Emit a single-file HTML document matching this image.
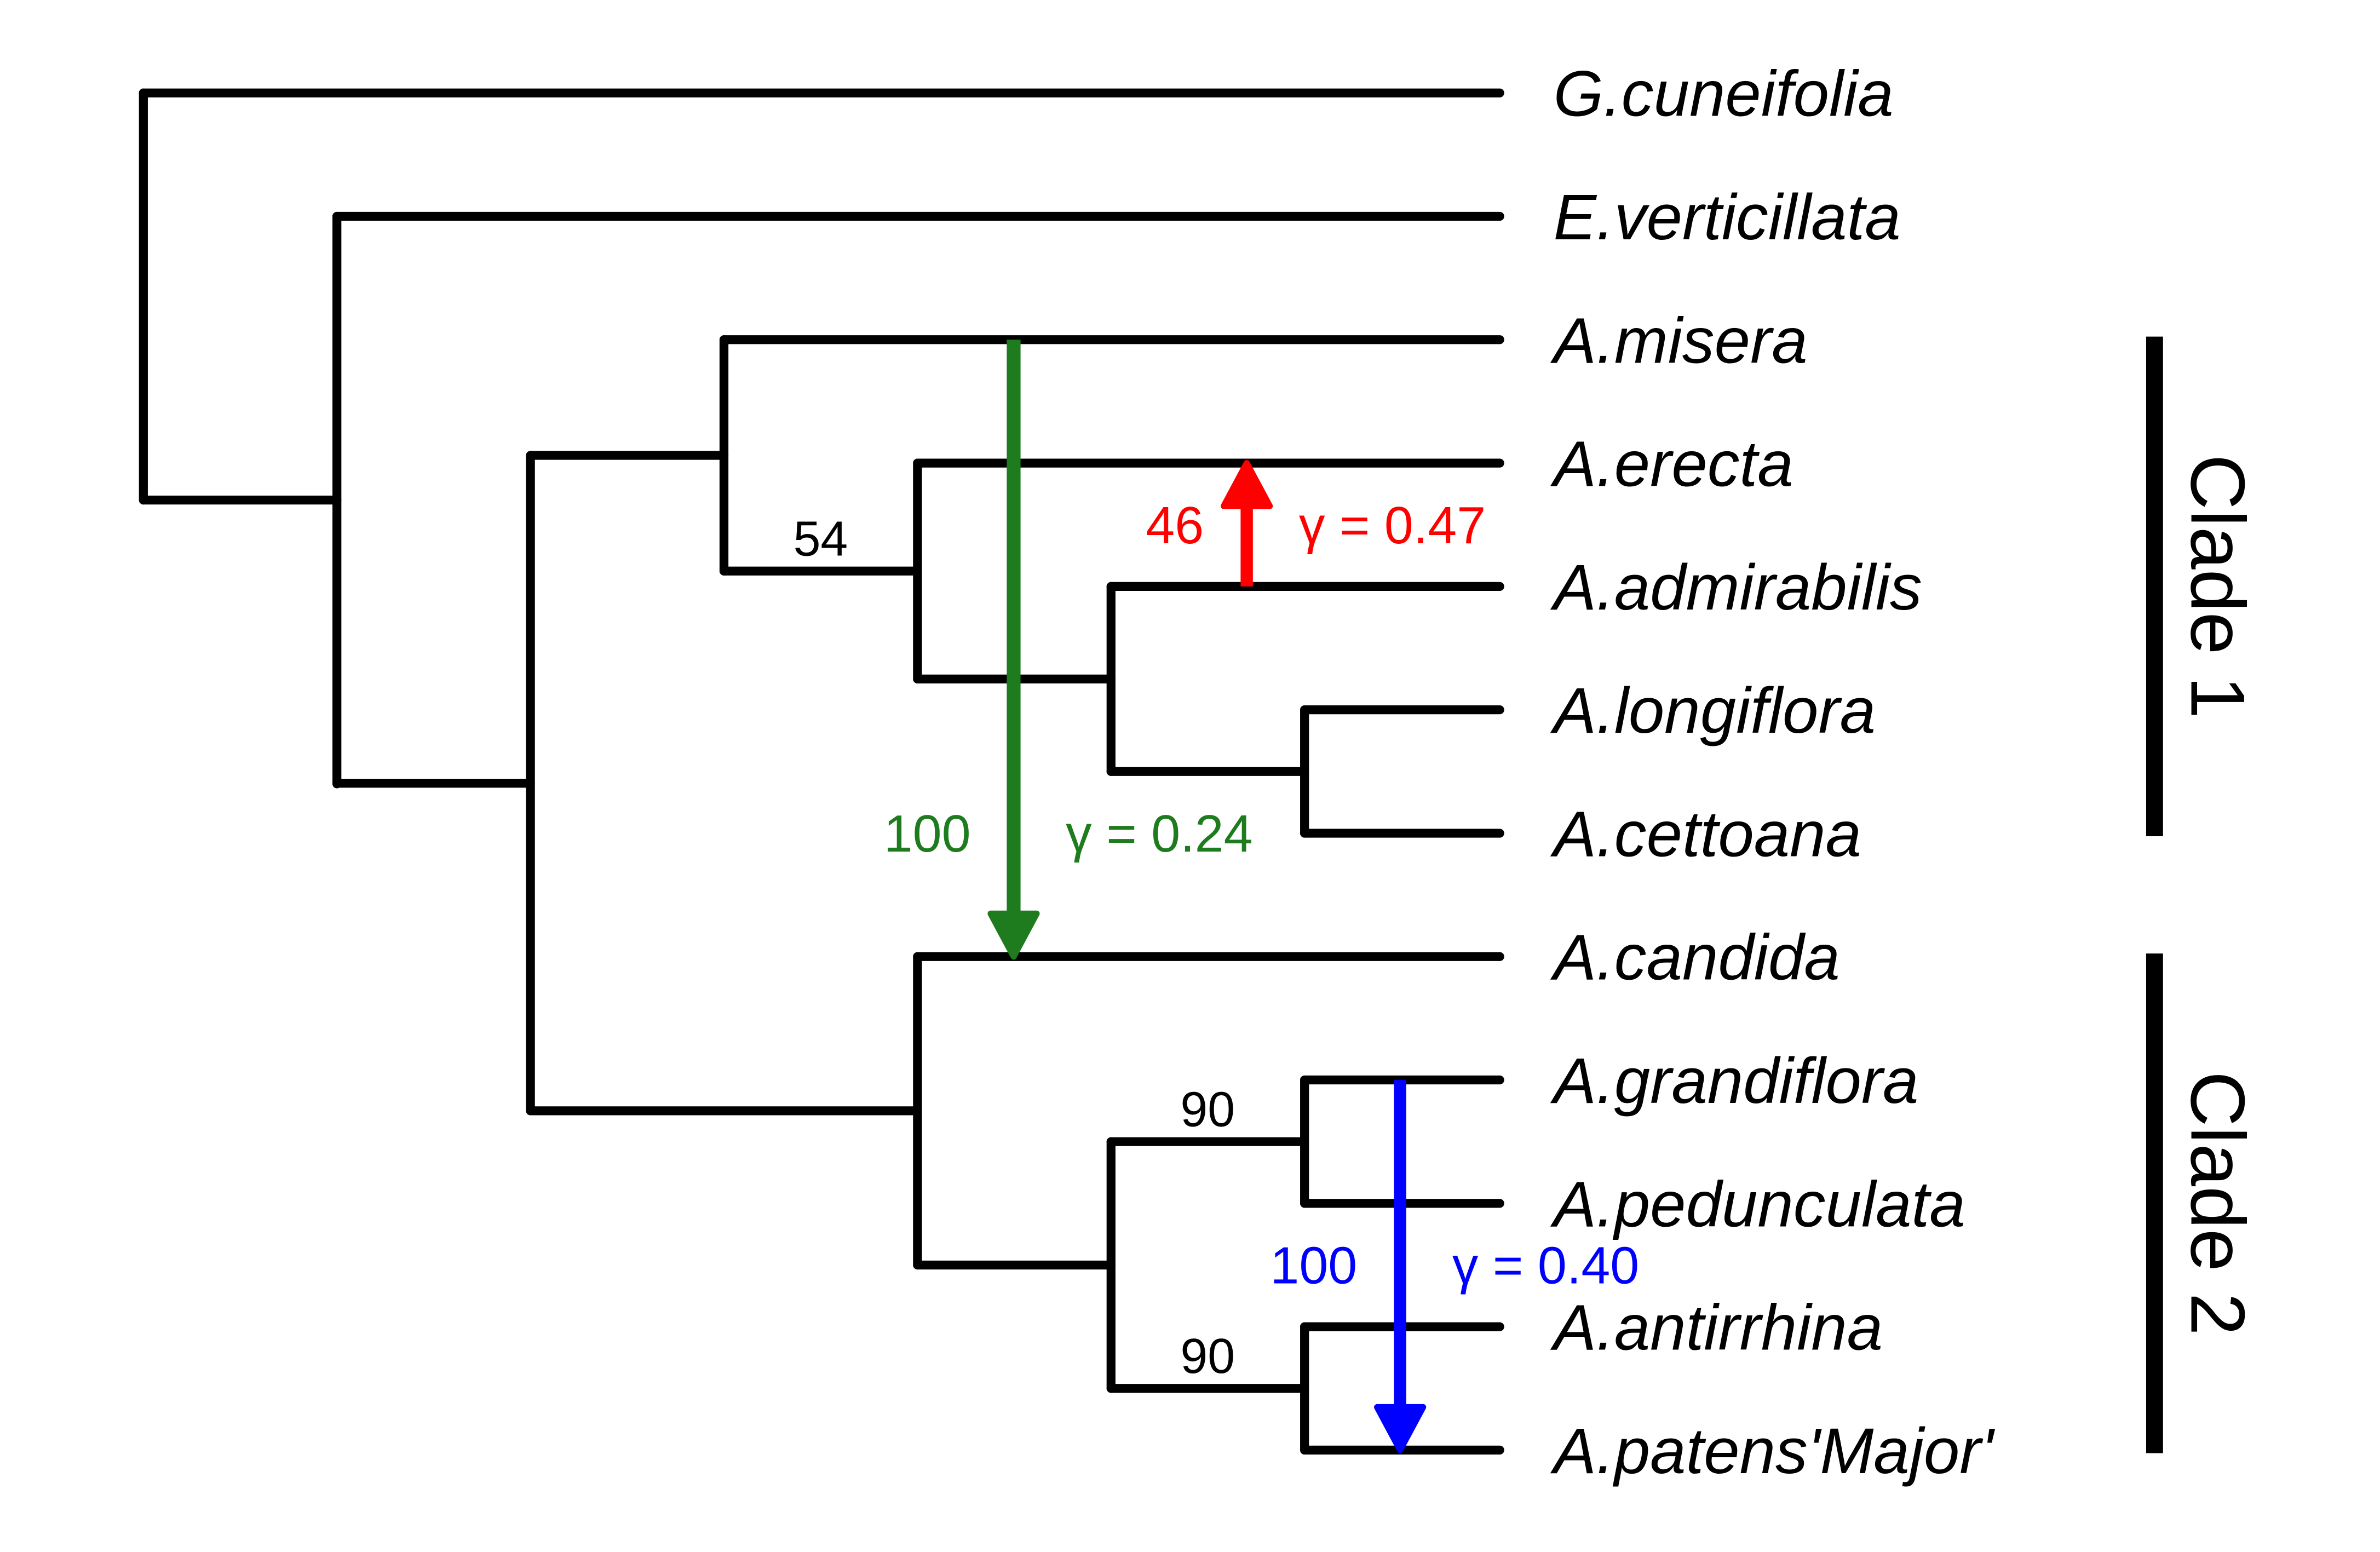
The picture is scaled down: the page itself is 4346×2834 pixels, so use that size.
<!DOCTYPE html>
<html><head><meta charset="utf-8"><style>
html,body{margin:0;padding:0;background:#fff;}
svg{display:block;}
text{font-family:"Liberation Sans",Arial,sans-serif;}
</style></head><body>
<svg id="c" width="4346" height="2834" viewBox="0 0 1552 1012" preserveAspectRatio="none" xmlns="http://www.w3.org/2000/svg">
<g id="tree" stroke="#000" stroke-width="5.8" fill="none" stroke-linecap="round"></g>
<g id="labels"></g>
<g id="extra"></g>
</svg>
<script>
const taxa = ["G.cuneifolia","E.verticillata","A.misera","A.erecta","A.admirabilis","A.longiflora","A.cettoana","A.candida","A.grandiflora","A.pedunculata","A.antirrhina","A.patens'Major'"];
const nodes = [
  {lvl:0, top:0, bot:3.3},
  {lvl:1, top:1, bot:5.6},
  {lvl:2, top:2.94, bot:8.25},
  {lvl:3, top:2, bot:3.875},
  {lvl:4, top:3, bot:4.75},
  {lvl:5, top:4, bot:5.5},
  {lvl:6, top:5, bot:6},
  {lvl:4, top:7, bot:9.5},
  {lvl:5, top:8.5, bot:10.5},
  {lvl:6, top:8, bot:9},
  {lvl:6, top:10, bot:11}
];
const parentLvl = [null,0,1,2,3,4,5,2,4,5,5];
const tipParentLvl = [0,1,3,4,5,6,6,4,6,6,6,6];
const supportLabels = ["54","90","90"];
const supportPos = [[3,3.875],[5,8.5],[5,10.5]];
const reticulations = [
  {from:2,to:7,lvlX:661,color:"#1e7b1e",support:"100",gamma:"γ = 0.24",row:6},
  {from:4,to:3,lvlX:813,color:"#ff0000",support:"46",gamma:"γ = 0.47",row:3.5},
  {from:8,to:11,lvlX:913,color:"#0000ff",support:"100",gamma:"γ = 0.40",row:9.5}
];
const clades = [["Clade 1",2,6],["Clade 2",7,11]];
const NS="http://www.w3.org/2000/svg";
const X=l=>93.5+l*126.2, Y=i=>60.6+i*80.45, TIPX=978;
function mk(t,a,p){const e=document.createElementNS(NS,t);for(const k in a)e.setAttribute(k,a[k]);p.appendChild(e);return e;}
const tree=document.getElementById('tree'),lab=document.getElementById('labels'),ex=document.getElementById('extra');
nodes.forEach((n,i)=>{
  const v=mk('line',{x1:X(n.lvl),x2:X(n.lvl),y1:Y(n.top),y2:Y(n.bot)},tree);
  
  
  if(parentLvl[i]!==null){const mid=(n.top+n.bot)/2;
    const h=mk('line',{x1:X(parentLvl[i]),x2:X(n.lvl),y1:Y(mid),y2:Y(mid)},tree);
    
    }
});
taxa.forEach((t,i)=>{
  const h=mk('line',{x1:X(tipParentLvl[i]),x2:TIPX,y1:Y(i),y2:Y(i)},tree);
  
  
  const tx=mk('text',{x:1013,y:Y(i)+15,'font-size':42,'font-style':'italic'},lab);
  tx.textContent=t;
  
  
});
supportLabels.forEach((s,i)=>{
  const p=supportPos[i];
  const t=mk('text',{x:X(p[0])+63,y:Y(p[1])-10,'font-size':32,'text-anchor':'middle'},ex);
  t.textContent=s;
  
  
});
reticulations.forEach(r=>{
  const y1=Y(r.from),y2=Y(r.to),dir=y2>y1?1:-1,w=r.color=="#1e7b1e"?9:8;
  const l=mk('line',{x1:r.lvlX,x2:r.lvlX,y1:y1,y2:y2-dir*20,stroke:r.color,'stroke-width':w},ex);
  
  
  const a=mk('path',{d:`M${r.lvlX-15},${y2-dir*28} L${r.lvlX+15},${y2-dir*28} L${r.lvlX},${y2} Z`,fill:r.color,stroke:r.color,'stroke-width':4,'stroke-linejoin':'round'},ex);
  
  
  const my=Y(r.row)+12;
  const s=mk('text',{x:r.lvlX-28,y:my,'font-size':34,'text-anchor':'end',fill:r.color},ex);
  s.textContent=r.support;
  
  
  const g=mk('text',{x:r.lvlX+34,y:my,'font-size':34,fill:r.color},ex);
  g.textContent=r.gamma;
  
  
});
clades.forEach(c=>{
  const b=mk('line',{x1:1405,x2:1405,y1:Y(c[1])-2,y2:Y(c[2])+2,stroke:'#000','stroke-width':11},ex);
  
  
  const cy=(Y(c[1])+Y(c[2]))/2;
  const t=mk('text',{x:0,y:0,'font-size':50,'text-anchor':'middle',transform:`translate(1429,${cy}) rotate(90)`},ex);
  t.textContent=c[0];
  
  
});
</script>
</body></html>
